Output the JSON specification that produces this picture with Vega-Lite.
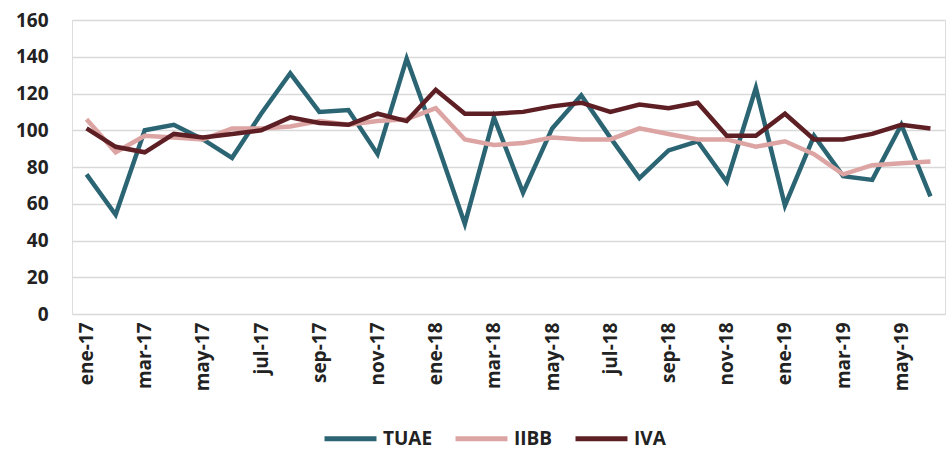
{
  "$schema": "https://vega.github.io/schema/vega-lite/v6.json",
  "width": 873,
  "height": 294,
  "autosize": "none",
  "padding": {"left": 72, "top": 20, "right": 7, "bottom": 136},
  "background": "white",
  "data": {"values": [
    {"mes": "ene-17", "TUAE": 76, "IIBB": 106, "IVA": 101},
    {"mes": "feb-17", "TUAE": 54, "IIBB": 88, "IVA": 91},
    {"mes": "mar-17", "TUAE": 100, "IIBB": 97, "IVA": 88},
    {"mes": "abr-17", "TUAE": 103, "IIBB": 96, "IVA": 98},
    {"mes": "may-17", "TUAE": 95, "IIBB": 95, "IVA": 96},
    {"mes": "jun-17", "TUAE": 85, "IIBB": 101, "IVA": 98},
    {"mes": "jul-17", "TUAE": 109, "IIBB": 101, "IVA": 100},
    {"mes": "ago-17", "TUAE": 131, "IIBB": 102, "IVA": 107},
    {"mes": "sep-17", "TUAE": 110, "IIBB": 105, "IVA": 104},
    {"mes": "oct-17", "TUAE": 111, "IIBB": 103, "IVA": 103},
    {"mes": "nov-17", "TUAE": 87, "IIBB": 105, "IVA": 109},
    {"mes": "dic-17", "TUAE": 139, "IIBB": 106, "IVA": 105},
    {"mes": "ene-18", "TUAE": 95, "IIBB": 112, "IVA": 122},
    {"mes": "feb-18", "TUAE": 49, "IIBB": 95, "IVA": 109},
    {"mes": "mar-18", "TUAE": 107, "IIBB": 92, "IVA": 109},
    {"mes": "abr-18", "TUAE": 66, "IIBB": 93, "IVA": 110},
    {"mes": "may-18", "TUAE": 101, "IIBB": 96, "IVA": 113},
    {"mes": "jun-18", "TUAE": 119, "IIBB": 95, "IVA": 115},
    {"mes": "jul-18", "TUAE": 96, "IIBB": 95, "IVA": 110},
    {"mes": "ago-18", "TUAE": 74, "IIBB": 101, "IVA": 114},
    {"mes": "sep-18", "TUAE": 89, "IIBB": 98, "IVA": 112},
    {"mes": "oct-18", "TUAE": 94, "IIBB": 95, "IVA": 115},
    {"mes": "nov-18", "TUAE": 72, "IIBB": 95, "IVA": 97},
    {"mes": "dic-18", "TUAE": 123, "IIBB": 91, "IVA": 97},
    {"mes": "ene-19", "TUAE": 59, "IIBB": 94, "IVA": 109},
    {"mes": "feb-19", "TUAE": 97, "IIBB": 87, "IVA": 95},
    {"mes": "mar-19", "TUAE": 75, "IIBB": 76, "IVA": 95},
    {"mes": "abr-19", "TUAE": 73, "IIBB": 81, "IVA": 98},
    {"mes": "may-19", "TUAE": 103, "IIBB": 82, "IVA": 103},
    {"mes": "jun-19", "TUAE": 64, "IIBB": 83, "IVA": 101}
  ]},
  "transform": [{"fold": ["TUAE", "IIBB", "IVA"], "as": ["serie", "valor"]}],
  "mark": {"type": "line", "strokeWidth": 4.5, "strokeJoin": "miter", "strokeCap": "butt"},
  "encoding": {
    "x": {
      "field": "mes", "type": "ordinal", "sort": null,
      "scale": {"type": "point", "padding": 0.5},
      "axis": {
        "title": null,
        "values": ["ene-17","mar-17","may-17","jul-17","sep-17","nov-17","ene-18","mar-18","may-18","jul-18","sep-18","nov-18","ene-19","mar-19","may-19"],
        "labelAngle": -90, "labelAlign": "right", "labelBaseline": "middle",
        "labelFont": "Open Sans", "labelFontWeight": "bold", "labelFontSize": 19, "labelColor": "#222222",
        "labelPadding": 8, "ticks": false, "domain": false, "grid": false
      }
    },
    "y": {
      "field": "valor", "type": "quantitative",
      "scale": {"domain": [0, 160], "nice": false},
      "axis": {
        "title": null, "values": [0,20,40,60,80,100,120,140,160],
        "labelFont": "Open Sans", "labelFontWeight": "bold", "labelFontSize": 19, "labelColor": "#222222",
        "labelPadding": 24, "ticks": false, "domain": false,
        "grid": true, "gridColor": "#d9d9d9", "gridWidth": 1.5
      }
    },
    "color": {
      "field": "serie", "type": "nominal",
      "scale": {"domain": ["TUAE", "IIBB", "IVA"], "range": ["#2b6573", "#dca4a2", "#5e1f24"]},
      "legend": {
        "title": null, "orient": "none", "direction": "horizontal",
        "legendX": 250, "legendY": 390,
        "symbolType": "stroke", "symbolSize": 2700, "symbolStrokeWidth": 5,
        "labelFont": "Open Sans", "labelFontWeight": "bold", "labelFontSize": 19, "labelColor": "#222222",
        "columnPadding": 12, "labelOffset": 4
      }
    }
  }
}
